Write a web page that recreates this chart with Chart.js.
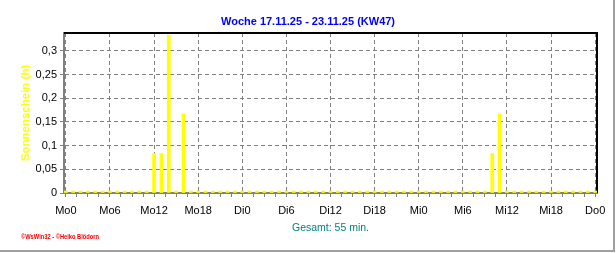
<!DOCTYPE html>
<html lang="de">
<head>
  <meta charset="UTF-8">
  <title>Sonnenschein KW47</title>
  <script type="text/javascript" src="https://cdn.jsdelivr.net/npm/chart.js@4.4.1/dist/chart.umd.min.js"></script>
  <style>
    body { margin: 0; background: #fff; }
  </style>
</head>
<body>
  <canvas id="chart" width="616" height="253"></canvas>

  <script type="text/javascript">
    // Sonnenschein je Stunde in Minuten (Mo 0 Uhr .. Do 0 Uhr)
    var monday    = [0,0,0,0,0,0, 0,0,0,0,0,0, 5,5,20,0,10,0, 0,0,0,0,0,0]
    var tuesday   = [0,0,0,0,0,0, 0,0,0,0,0,0, 0,0,0,0,0,0, 0,0,0,0,0,0]
    var wednesday = [0,0,0,0,0,0, 0,0,0,0,5,10, 0,0,0,0,0,0, 0,0,0,0,0,0]
    var thursday  = [0]

    var xLabels = ['Mo0', 'Mo6', 'Mo12', 'Mo18', 'Di0', 'Di6', 'Di12', 'Di18',
                   'Mi0', 'Mi6', 'Mi12', 'Mi18', 'Do0']
    var yTicks = [0, 0.05, 0.1, 0.15, 0.2, 0.25, 0.3]

    var chartTitle = 'Woche 17.11.25 - 23.11.25 (KW47)'
    var yTitle = 'Sonnenschein (h)'
    var totalText = 'Gesamt: 55 min.'
    var copyright = '\u00a9WsWin32 - \u00a9Heiko Bl\u00f6dorn'

    var minutes = monday.concat(tuesday, wednesday, thursday)
    var points = minutes.map(function (m, i) { return { x: i, y: m / 60 } })

    var GRAY = '#808080'
    Chart.defaults.font.family = '"Liberation Sans", Arial, sans-serif'
    Chart.defaults.color = '#000'

    var framePlugin = {
      id: 'frame',
      beforeDatasetsDraw: function (chart) {
        var a = chart.chartArea, ctx = chart.ctx
        ctx.save()
        ctx.strokeStyle = '#000'
        ctx.lineWidth = 2
        ctx.beginPath()
        ctx.moveTo(a.left, a.top)
        ctx.lineTo(a.right, a.top)
        ctx.lineTo(a.right, a.bottom)
        ctx.stroke()
        ctx.restore()
      },
      afterDraw: function (chart) {
        var ctx = chart.ctx
        ctx.save()
        // Fensterrahmen rechts und unten
        ctx.fillStyle = '#a0a0a0'
        ctx.fillRect(613, 0, 2, 252)
        ctx.fillRect(0, 250, 615, 2)
        // Copyright
        ctx.fillStyle = '#ff0000'
        ctx.font = 'bold 7px "Liberation Sans", Arial, sans-serif'
        ctx.textBaseline = 'middle'
        ctx.textAlign = 'left'
        ctx.fillText(copyright, 21, 237.5, 78)
        ctx.restore()
      }
    }

    var ctx = document.getElementById('chart').getContext('2d')
    var chart = new Chart(ctx, {
      type: 'bar',
      data: {
        datasets: [{
          data: points,
          backgroundColor: '#ffff00',
          borderWidth: 0,
          barThickness: 3,
          minBarLength: 2
        }]
      },
      options: {
        responsive: false,
        animation: false,
        layout: { padding: 0 },
        plugins: {
          legend: { display: false },
          tooltip: { enabled: false },
          title: {
            display: true,
            text: chartTitle,
            color: '#0000ff',
            font: { size: 11, weight: 'bold' },
            padding: { top: 15, bottom: 4.8 }
          }
        },
        scales: {
          x: {
            type: 'linear',
            min: -0.25,
            max: 72.25,
            offset: false,
            afterBuildTicks: function (s) {
              var t = []
              for (var h = 0; h <= 72; h += 1.5) t.push({ value: h })
              s.ticks = t
            },
            afterFit: function (s) { s.height = 60 },
            grid: {
              offset: false,
              color: function (c) {
                return c.tick && c.tick.value % 6 === 0 ? GRAY : 'rgba(0,0,0,0)'
              },
              tickColor: GRAY,
              tickLength: 4
            },
            border: { color: GRAY, width: 2, dash: [4, 3] },
            ticks: {
              autoSkip: false,
              maxRotation: 0,
              padding: 7,
              font: { size: 11 },
              callback: function (v) { return v % 6 === 0 ? xLabels[v / 6] : '' }
            },
            title: {
              display: true,
              text: totalText,
              color: '#008080',
              font: { size: 10.5 },
              padding: { top: 0, bottom: 18.7 }
            }
          },
          y: {
            min: 0,
            max: 0.338,
            afterBuildTicks: function (s) {
              s.ticks = yTicks.map(function (v) { return { value: v } })
            },
            afterFit: function (s) { s.width = 64 },
            grid: {
              color: function (c) {
                return c.tick && c.tick.value > 0 ? GRAY : 'rgba(0,0,0,0)'
              },
              tickColor: GRAY,
              tickLength: 4
            },
            border: { color: GRAY, width: 2, dash: [4, 3] },
            ticks: {
              padding: 3,
              font: { size: 11 },
              callback: function (v) { return String(v).replace('.', ',') }
            },
            title: {
              display: true,
              text: yTitle,
              color: '#ffff00',
              font: { size: 11.5, weight: 'bold' },
              padding: { top: 19, bottom: 0 }
            }
          },
          yRight: {
            position: 'right',
            display: true,
            grid: { display: false, drawTicks: false },
            border: { display: false },
            ticks: { display: false },
            afterFit: function (s) { s.width = 19 }
          }
        }
      },
      plugins: [framePlugin]
    })
  </script>
</body>
</html>
